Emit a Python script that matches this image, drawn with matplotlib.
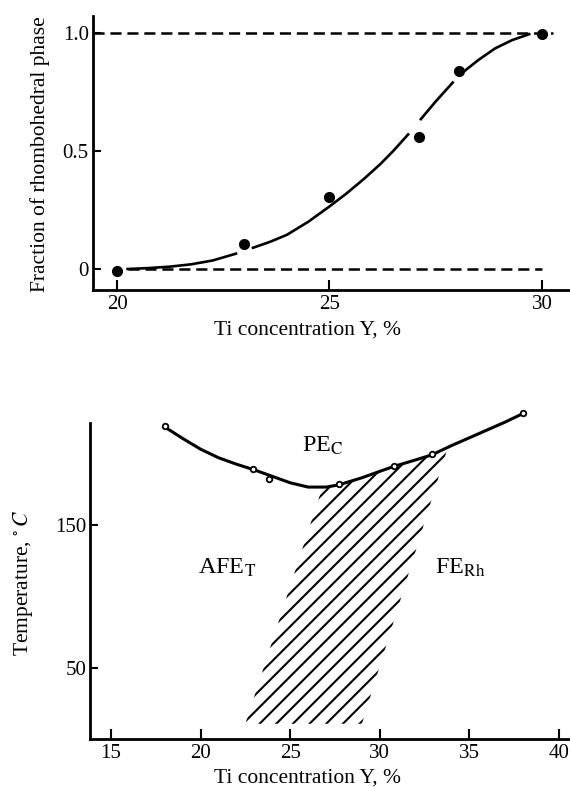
import numpy as np
import matplotlib
matplotlib.use("Agg")
import matplotlib.pyplot as plt

plt.rcParams['font.family'] = ['Liberation Serif', 'DejaVu Serif']
plt.rcParams['mathtext.fontset'] = 'stix'
plt.rcParams['hatch.linewidth'] = 1.5

# ---------------- data: top panel ----------------
frac_x = [20.0, 23.0, 25.0, 27.1, 28.05, 30.0]
frac_y = [-0.01, 0.105, 0.305, 0.56, 0.84, 0.995]
# fitted curve (gaps where the original line is broken)
fit_x = [20.25, 20.75, 21.25, 21.75, 22.25, 22.8, np.nan,
         23.2, 23.6, 24.0, 24.5, 25.0, 25.4, 25.8, 26.2, 26.5, 26.85, np.nan,
         27.15, 27.5, 27.9, np.nan,
         28.15, 28.5, 28.9, 29.3, 29.7]
fit_y = [0.0, 0.004, 0.01, 0.02, 0.036, 0.065, np.nan,
         0.09, 0.115, 0.145, 0.2, 0.265, 0.32, 0.38, 0.445, 0.5, 0.57, np.nan,
         0.635, 0.71, 0.79, np.nan,
         0.835, 0.885, 0.935, 0.97, 0.995]
ref_levels = [0.0, 1.0]
ref_start = [20.25, 19.44]
ref_end = [30.0, 30.25]
top_xticks = [20, 25, 30]
top_yticks = [0, 0.5, 1.0]
top_yticklabels = ['0', '0.5', '1.0']

# ---------------- data: bottom panel ----------------
tc_x = [18.0, 22.9, 23.8, 27.7, 30.8, 32.9, 38.0]
tc_y = [219, 189, 182, 178.5, 191, 199.5, 228]
tc_curve_x = [18, 19, 20, 21, 22, 23, 24, 25, 26, 27, 27.7, 29, 30, 30.8, 32,
              32.9, 34, 35, 36, 37, 38]
tc_curve_y = [218.5, 210.5, 203, 197, 192.5, 188.5, 184, 179.5, 176.5, 176.5,
              178, 183, 187.5, 191, 195.5, 199, 205.5, 211, 216.5, 222, 228]
# two-phase (hatched) region boundaries
hatch_left_x = [22.5, 26.8]
hatch_left_y = [11, 176.5]
hatch_right_x = [29.0, 33.8]
hatch_right_y = [11, 204.5]
bot_xticks = [15, 20, 25, 30, 35, 40]
bot_yticks = [50, 150]
phase_labels = [r'PE$_\mathrm{C}$', r'AFE$_\mathrm{T}$', r'FE$_\mathrm{Rh}$']
phase_x = [25.65, 19.85, 33.1]
phase_y = [201, 115.7, 115.7]

W, H = 570, 787
fig = plt.figure(figsize=(W / 100, H / 100), dpi=100)

# ================= top axes =================
ax1 = fig.add_axes([93 / W, (H - 290) / H, 477 / W, 274 / H])
ax1.set_xlim(19.435, 30.66)
ax1.set_ylim(-0.089, 1.072)
for s in ['top', 'right']:
    ax1.spines[s].set_visible(False)
for s in ['left', 'bottom']:
    ax1.spines[s].set_linewidth(2.0)

lw_d = 1.8
for lev, a, b in zip(ref_levels, ref_start, ref_end):
    ax1.plot([a, b], [lev, lev], color='black', lw=lw_d,
             linestyle=(0, (8.0 / lw_d, 4.2 / lw_d)), zorder=2)
ax1.plot(fit_x, fit_y, color='black', lw=1.9, zorder=3)
ax1.plot(frac_x, frac_y, 'o', color='black', ms=7, zorder=4, clip_on=False)

ax1.set_xticks(top_xticks)
ax1.set_yticks(top_yticks)
ax1.set_yticklabels(top_yticklabels)
ax1.tick_params(axis='x', direction='in', length=7, width=1.5, pad=3.5,
                labelsize=15)
ax1.tick_params(axis='y', direction='in', length=5.5, width=1.5, pad=3,
                labelsize=15)
ax1.set_xlabel('Ti concentration Y, %', fontsize=15.5)
ax1.xaxis.set_label_coords((308 - 93) / 477, -(330 - 290) / 274)
ax1.xaxis.label.set_va('center')
ax1.set_ylabel('Fraction of rhombohedral phase', fontsize=15.5)
ax1.yaxis.set_label_coords((40 - 93) / 477, (290 - 154) / 274)
ax1.yaxis.label.set_va('center')

# ================= bottom axes =================
ax2 = fig.add_axes([90 / W, (H - 739) / H, 480 / W, 316 / H])
ax2.set_xlim(13.83, 40.61)
ax2.set_ylim(0.35, 221.3)
for s in ['top', 'right']:
    ax2.spines[s].set_visible(False)
for s in ['left', 'bottom']:
    ax2.spines[s].set_linewidth(2.0)

# hatched two-phase region: left edge, bottom, right edge, then along the curve
cx = np.array(tc_curve_x, dtype=float)
cy = np.array(tc_curve_y, dtype=float)
sel = (cx > hatch_left_x[1]) & (cx < hatch_right_x[1])
poly_x = [hatch_left_x[0], hatch_right_x[0], hatch_right_x[1]] + \
    list(cx[sel][::-1]) + [hatch_left_x[1]]
poly_y = [hatch_left_y[0], hatch_right_y[0], hatch_right_y[1]] + \
    list(cy[sel][::-1]) + [hatch_left_y[1]]
ax2.fill(poly_x, poly_y, facecolor='none', edgecolor='black', linewidth=0,
         hatch='//', zorder=1)

ax2.plot(tc_curve_x, tc_curve_y, color='black', lw=2.2, zorder=3,
         clip_on=False)
ax2.plot(tc_x, tc_y, 'o', mfc='white', mec='black', mew=1.3, ms=4,
         zorder=4, clip_on=False)

for t, x, y in zip(phase_labels, phase_x, phase_y):
    ax2.text(x, y, t, fontsize=17.5, ha='left', va='baseline')

ax2.set_xticks(bot_xticks)
ax2.set_yticks(bot_yticks)
ax2.tick_params(axis='x', direction='in', length=7, width=1.5, pad=3.5,
                labelsize=15)
ax2.tick_params(axis='y', direction='in', length=5.5, width=1.5, pad=2.5,
                labelsize=15)
ax2.set_xlabel('Ti concentration Y, %', fontsize=15.5)
ax2.xaxis.set_label_coords((308 - 90) / 480, -(778 - 739) / 316)
ax2.xaxis.label.set_va('center')
ax2.set_ylabel(r'Temperature, $^{\circ}\,C$', fontsize=15.5)
ax2.yaxis.set_label_coords((23 - 90) / 480, (739 - 583) / 316)
ax2.yaxis.label.set_va('center')

fig.savefig('out.png', dpi=100)
